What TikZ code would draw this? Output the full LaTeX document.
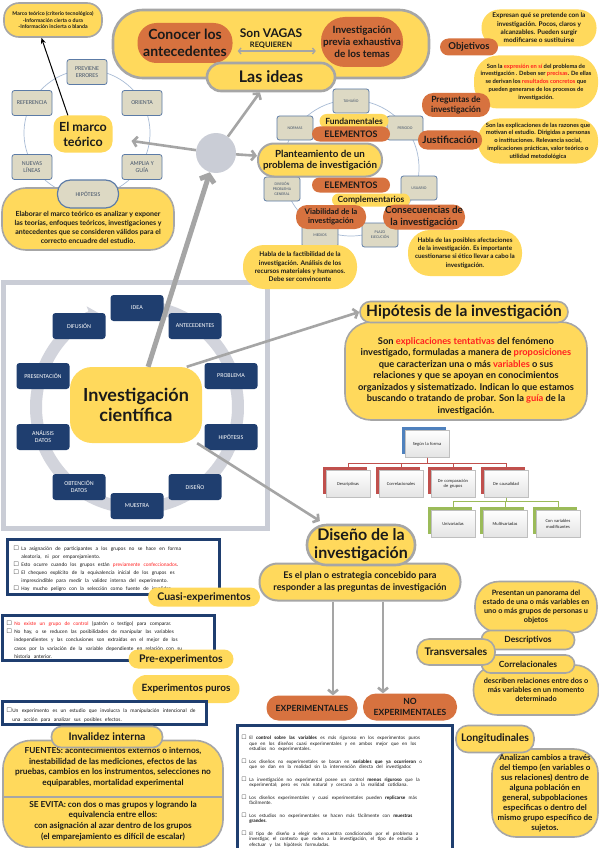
\documentclass[tikz,border=0pt]{standalone}
\usepackage{amssymb}
\usepackage{fontspec}
\setmainfont{Lato}
\newfontfamily\calib{Carlito}
\usetikzlibrary{arrows.meta, positioning, shadows}

\definecolor{yel}{HTML}{FFD95C}
\definecolor{orn}{HTML}{D7723F}
\definecolor{rimc}{HTML}{A6A6A6}
\definecolor{arrc}{HTML}{A5A5A5}
\definecolor{hubc}{HTML}{CACDD6}
\definecolor{navy}{HTML}{1F3E6F}
\definecolor{beige}{HTML}{DDD9C4}
\definecolor{beigeb}{HTML}{5C7BA6}
\definecolor{tagink}{HTML}{44546A}
\definecolor{ringc}{HTML}{A8BBD5}
\definecolor{ink}{HTML}{1A1A1A}
\definecolor{hot}{HTML}{FF1F1F}
\definecolor{segblue}{HTML}{4F81BD}
\definecolor{segred}{HTML}{C0504D}
\definecolor{seggreen}{HTML}{9BBB59}

\newcommand{\fsz}[2]{\fontsize{#1}{#2}\selectfont}
\newcommand{\rd}[1]{\textcolor{hot}{#1}}
\newcommand{\chk}[1]{\par\hangindent=#1\hangafter=1\noindent\makebox[#1][l]{$\square$}}

\begin{document}
\begin{tikzpicture}[x=1pt, y=-1pt,
  ybox/.style={rectangle, fill=yel, text=ink, align=center, font=\bfseries, inner sep=1pt},
  obox/.style={rectangle, fill=orn, text=ink, align=center, font=\bfseries, inner sep=1pt},
  rim/.style={draw=rimc, line width=1.6pt},
  thickrim/.style={draw=rimc, line width=2.6pt},
  tag/.style={rectangle, rounded corners=2.5pt, fill=beige, draw=beigeb, line width=0.8pt,
              text=tagink, align=center, inner sep=1pt},
  mtag/.style={tag, minimum width=40pt, minimum height=25pt, font=\calib\fsz{6}{7}},
  ptag/.style={tag, minimum width=36pt, minimum height=24pt, font=\calib\fsz{4}{4.7}},
  cyc/.style={rectangle, rounded corners=3pt, fill=navy, text=white, align=center,
              minimum width=53pt, minimum height=26pt, inner sep=1pt, font=\calib\fsz{6}{7}},
  frm/.style={rectangle, general shadow={fill=#1, shadow xshift=-3.5pt, shadow yshift=3.5pt},
              top color=white, bottom color=gray!22, draw=gray!50, line width=0.4pt,
              minimum width=44pt, minimum height=27pt, text width=42pt, align=center,
              inner sep=1pt, font=\calib\fsz{4.5}{5.2}, text=gray!25!black},
  lst/.style={rectangle, anchor=north west, draw=navy, line width=2.6pt, fill=white,
              inner ysep=2pt, font=\calib, text=ink,
              execute at begin node={\lineskiplimit=-20pt\lineskip=0pt\parskip=0pt}},
  ring/.style={draw=ringc, line width=0.7pt},
  garr/.style={draw=arrc, line width=2.6pt, -{Straight Barb[length=4pt, width=10pt]}},
  darr/.style={draw=arrc, line width=1.3pt,
               {Straight Barb[length=2.5pt, width=6pt]}-{Straight Barb[length=2.5pt, width=6pt]},
               shorten <=5pt, shorten >=5pt},
  bigarr/.style={draw=arrc, line width=5pt, -{Straight Barb[length=6pt, width=15pt]}},
  blkarr/.style={draw=black, line width=1pt, -{Stealth[length=6pt, width=5pt]}},
  redln/.style={draw=segred, line width=0.6pt},
  greenln/.style={draw=seggreen, line width=0.6pt}
]
\fill[white] (0,0) rectangle (599,848);
\useasboundingbox (0,0) rectangle (599,848);

% ciclo de la investigacion
\draw[draw=hubc, line width=5pt] (3,282) rectangle (267,528);
\draw[draw=hubc!85!white, line width=12pt, -{Triangle[length=9pt, width=22pt]}]
  (137,407) ++(-80:101) arc[start angle=-80, end angle=248, radius=101];
\node[cyc] (cidea) at (137,308) {IDEA};
\node[cyc] (cante) at (195,326) {ANTECEDENTES};
\node[cyc] (cprob) at (231,376) {PROBLEMA};
\node[cyc] (chipo) at (231,437) {HIPÓTESIS};
\node[cyc] (cdise) at (195,487) {DISEÑO};
\node[cyc] (cmues) at (137,506) {MUESTRA};
\node[cyc] (cobte) at (79,487) {OBTENCIÓN\\DATOS};
\node[cyc] (canal) at (43,437) {ANÁLISIS\\DATOS};
\node[cyc] (cpres) at (43,376) {PRESENTACIÓN};
\node[cyc] (cdifu) at (79,326) {DIFUSIÓN};
\node[ybox, rounded corners=22pt, minimum width=132pt, minimum height=76pt,
      font=\bfseries\fsz{18}{20}] (cien) at (136,405) {Investigación\\científica};

% marco teorico
\node[ybox, rim, rounded corners=15pt, minimum width=98pt, minimum height=34pt,
      font=\bfseries\fsz{5.2}{6.6}] (mt) at (53,20)
  {Marco teórico (criterio tecnológico)\\-Información cierta o dura\\-Información incierta o blanda};
\draw[ring] (87,133) circle[radius=63];
\node[mtag] (prev) at (87,72) {PREVIENE\\ERRORES};
\node[mtag] (refe) at (32,103) {REFERENCIA};
\node[mtag] (orie) at (142,103) {ORIENTA};
\node[mtag] (nuev) at (32,167) {NUEVAS\\LÍNEAS};
\node[mtag] (ampl) at (142,167) {AMPLIA Y\\GUÍA};
\node[ybox, rounded corners=11pt, minimum width=59pt, minimum height=37pt,
      font=\bfseries\fsz{12.5}{15}] (marco) at (83,134) {El marco\\teórico};
\node[ybox, rim, rounded corners=24pt, minimum width=172pt, minimum height=62pt,
      font=\bfseries\fsz{7}{9}] (elab) at (88,219)
  {\rule{0pt}{23pt}Elaborar el marco teórico es analizar y exponer\\las teorías, enfoques teóricos, investigaciones y\\antecedentes que se consideren válidos para el\\correcto encuadre del estudio.};
\node[mtag, rounded corners=13pt, minimum width=61pt, minimum height=28pt, line width=1.2pt]
  (hipm) at (88,194) {HIPÓTESIS};

% las ideas
\node[ybox, thickrim, rounded corners=30pt, minimum width=316pt, minimum height=68pt] (top) at (271,44) {};
\node[obox, rounded corners=19pt, minimum width=95pt, minimum height=40pt,
      font=\bfseries\fsz{14}{17}] (conocer) at (185,43) {Conocer los\\antecedentes};
\node[text=ink, font=\bfseries\fsz{12}{14}] (vagas) at (271,33) {Son VAGAS};
\node[below=0pt of vagas, text=ink, font=\bfseries\fsz{7.5}{9}, inner sep=1pt] (req) {REQUIEREN};
\node[obox, rounded corners=24pt, minimum width=82pt, minimum height=50pt,
      font=\bfseries\fsz{10}{11.7}] (previa) at (362,42) {Investigación\\previa exhaustiva\\de los temas};
\node[ybox, thickrim, rounded corners=14pt, minimum width=128pt, minimum height=28pt,
      font=\bfseries\fsz{16}{18}] (ideas) at (271,77) {Las ideas};
\draw[darr] ([yshift=-8pt]conocer.east) -- ([yshift=-9pt]previa.west);

\node[circle, fill=hubc, minimum size=40pt, inner sep=0pt] (hub) at (216,153) {};

% planteamiento del problema
\draw[ring] (351,168) circle[radius=68];
\node[ptag] (tama) at (351,101) {TAMAÑO};
\node[ptag] (norm) at (295,128) {NORMAS};
\node[ptag] (peri) at (405,128) {PERIODO};
\node[ptag] (divi) at (282,189) {DIVISIÓN\\PROBLEMA\\GENERAL};
\node[ptag] (usua) at (419,188) {USUARIO};
\node[ptag] (medi) at (320,235) {MEDIOS};
\node[ptag] (plaz) at (380,235) {PLAZO\\EJECUCIÓN};
\node[ybox, rounded corners=7pt, minimum width=69pt, minimum height=14pt,
      font=\bfseries\fsz{8.5}{10}] (fund) at (354,121) {Fundamentales};
\node[obox, rounded corners=7.5pt, minimum width=78pt, minimum height=15pt,
      font=\bfseries\fsz{9}{10}] (elem1) at (351,134) {ELEMENTOS};
\node[ybox, draw=rimc, line width=2pt, rounded corners=16pt, minimum width=124pt, minimum height=33pt,
      font=\bfseries\fsz{9.8}{11}] (plant) at (320,160) {Planteamiento de un\\problema de investigación};
\node[obox, rounded corners=7.5pt, minimum width=78pt, minimum height=15pt,
      font=\bfseries\fsz{9}{10}] (elem2) at (351,185) {ELEMENTOS};
\node[ybox, rounded corners=6.5pt, minimum width=78pt, minimum height=13pt,
      font=\bfseries\fsz{8.5}{10}] (compl) at (371,200) {Complementarios};
\node[obox, rounded corners=11pt, minimum width=70pt, minimum height=24pt,
      font=\bfseries\fsz{7.8}{9.5}] (viab) at (331,217) {Viabilidad de la\\investigación};
\node[obox, rounded corners=12pt, minimum width=82pt, minimum height=25pt,
      font=\bfseries\fsz{9.8}{12}] (conse) at (424,217) {Consecuencias de\\la investigación};
\node[ybox, rounded corners=21pt, minimum width=114pt, minimum height=44pt,
      font=\bfseries\fsz{6.5}{8.3}] (factib) at (300,267)
  {Habla de la factibilidad de la\\investigación.  Análisis de los\\recursos materiales y humanos.\\Debe ser convincente};
\node[ybox, rounded corners=22pt, minimum width=114pt, minimum height=46pt,
      font=\bfseries\fsz{6.3}{8.3}] (afect) at (465,253)
  {Habla de las posibles afectaciones\\de la investigación. Es importante\\cuestionarse si ético llevar a cabo la\\investigación.};

% objetivos, preguntas, justificacion
\node[ybox, rounded corners=18pt, minimum width=115pt, minimum height=37pt,
      font=\bfseries\fsz{6.5}{8.3}] (exprtxt) at (539,28)
  {Expresan qué se pretende con la\\investigación. Pocos, claros y\\alcanzables. Pueden surgir\\modificarse o sustituirse};
\node[obox, rounded corners=8.5pt, minimum width=58pt, minimum height=17pt,
      font=\bfseries\fsz{9.5}{11}] (obj) at (469,47) {Objetivos};
\node[ybox, rounded corners=24pt, minimum width=124pt, minimum height=53pt,
      font=\bfseries\fsz{5.8}{7.7}] (pregtxt) at (536,82)
  {Son la \rd{expresión en sí} del problema de\\investigación . Deben ser \rd{precisas}. De ellas\\se derivan los \rd{resultados concretos} que\\pueden generarse de los procesos de\\investigación.};
\node[obox, rounded corners=11pt, minimum width=68pt, minimum height=24pt,
      font=\bfseries\fsz{8.5}{10}] (preg) at (456,105) {Preguntas de\\investigación};
\node[ybox, rounded corners=21pt, minimum width=120pt, minimum height=45pt,
      font=\bfseries\fsz{5.9}{7.7}] (justtxt) at (538,141)
  {Son las explicaciones de las razones que\\motivan el estudio. Dirigidas a personas\\o instituciones. Relevancia social,\\implicaciones prácticas, valor teórico o\\utilidad metodológica};
\node[obox, rounded corners=9pt, minimum width=64pt, minimum height=19pt,
      font=\bfseries\fsz{10}{12}] (just) at (450,140) {Justificación};

% hipotesis
\node[ybox, rim, rounded corners=26pt, minimum width=242pt, minimum height=98pt,
      font=\bfseries\fsz{9.3}{11.5}] (hiptxt) at (466,371)
  {\rule{0pt}{17pt}Son \rd{explicaciones tentativas} del fenómeno\\investigado, formuladas a manera de \rd{proposiciones}\\que caracterizan una o más \rd{variables} o sus\\relaciones y que se apoyan en conocimientos\\organizados y sistematizado. Indican lo que estamos\\buscando o tratando de probar. Son la \rd{guía} de la\\investigación.};
\node[ybox, rim, rounded corners=10.5pt, minimum width=208pt, minimum height=21pt,
      font=\bfseries\fsz{15.5}{17}] (hiptit) at (464,312) {Hipótesis de la investigación};

\node[frm=segblue] (segun) at (427,444) {Según la forma};
\node[frm=segred] (odesc) at (348,484) {Descriptivas};
\node[frm=segred] (ocorr) at (401,484) {Correlacionales};
\node[frm=segred] (ocomp) at (453,484) {De comparación\\de grupos};
\node[frm=segred] (ocaus) at (506,484) {De causalidad};
\node[frm=seggreen] (ouniv) at (453,524) {Univariadas};
\node[frm=seggreen] (omult) at (505,524) {Multivariadas};
\node[frm=seggreen] (omodi) at (558,524) {Con variables\\modificantes};
\foreach \n in {odesc,ocorr,ocomp,ocaus}
  \draw[redln] (segun.south) -- ++(0,5.5) -| ([yshift=3.5pt]\n.north);
\foreach \n in {ouniv,omult,omodi}
  \draw[greenln] (ocaus.south) -- ++(0,4) -| ([yshift=3.5pt]\n.north);

% diseno de la investigacion
\node[ybox, draw=rimc, line width=2pt, rounded corners=18pt, minimum width=201pt, minimum height=37pt,
      font=\bfseries\fsz{9.2}{12}] (plan) at (360,582)
  {Es el plan o estrategia concebido para\\responder a las preguntas de investigación};
\node[ybox, thickrim, rounded corners=19.5pt, minimum width=108pt, minimum height=40pt,
      font=\bfseries\fsz{16}{18}] (dis) at (361,545) {Diseño de la\\investigación};
\node[obox, rounded corners=12pt, minimum width=91pt, minimum height=25pt,
      font=\bfseries\fsz{8.5}{10}] (exp) at (312,708) {EXPERIMENTALES};
\node[obox, rounded corners=13pt, minimum width=94pt, minimum height=27pt,
      font=\bfseries\fsz{8.5}{11}] (noexp) at (410,707) {NO\\EXPERIMENTALES};
\draw[garr] ([xshift=-27pt]plan.south) -- ([xshift=21pt]exp.north);
\draw[garr] ([xshift=23pt]plan.south) -- ([xshift=-27pt]noexp.north);

\node[lst, text width=207pt, inner xsep=4pt, minimum height=121pt] (cmpbox) at (236,724)
  {\fsz{5}{5.6}\parskip=6.8pt%
   \chk{8pt}El \textbf{control sobre las variables} es más riguroso en los experimentos puros\linebreak que en los diseños cuasi experimentales y en ambos mejor que en los\linebreak estudios no experimentales.
   \chk{8pt}Los diseños no experimentales se basan en \textbf{variables que ya ocurrieron} o\linebreak que se dan en la realidad sin la intervención directa del investigador.
   \chk{8pt}La investigación no experimental posee un control \textbf{menos riguroso} que la\linebreak experimental; pero es más natural y cercana a la realidad cotidiana.
   \chk{8pt}Los diseños experimentales y cuasi experimentales pueden \textbf{replicarse} más\linebreak fácilmente.
   \chk{8pt}Los estudios no experimentales se hacen más fácilmente con \textbf{muestras}\linebreak \textbf{grandes}.
   \chk{8pt}El tipo de diseño a elegir se encuentra condicionado por el problema a\linebreak investigar, el contexto que rodea a la investigación, el tipo de estudio a\linebreak efectuar y las hipótesis formuladas.\par};

% tipos de experimentos
\node[lst, text width=200pt, inner xsep=6pt, minimum height=55pt] (cuasibox) at (6,538)
  {\fsz{5.3}{7.9}%
   \chk{8pt}La asignación de participantes a los grupos no se hace en forma\linebreak aleatoria, ni por emparejamiento.
   \chk{8pt}Esto ocurre cuando los grupos están \rd{previamente confeccionados}.
   \chk{8pt}El chequeo explícito de la equivalencia inicial de los grupos es\linebreak imprescindible para medir la validez interna del experimento.
   \chk{8pt}Hay mucho peligro con la selección como fuente de invalidez.\par};
\node[ybox, rounded corners=9.5pt, minimum width=112pt, minimum height=19pt,
      font=\bfseries\fsz{10.5}{12}] (cuasi) at (204,597) {Cuasi-experimentos};
\node[lst, text width=204pt, inner xsep=4pt, minimum height=42pt] (prebox) at (1,614)
  {\fsz{5.3}{8.2}%
   \chk{8pt}\rd{No existe un grupo de control} (patrón o testigo) para comparar.
   \chk{8pt}No hay, o se reducen las posibilidades de manipular las variables\linebreak independientes y las conclusiones son extraídas en el mejor de los\linebreak casos por la variación de la variable dependiente en relación con su\linebreak historia anterior.\par};
\node[ybox, rounded corners=9.5pt, minimum width=105pt, minimum height=19pt,
      font=\bfseries\fsz{10.5}{12}] (pre) at (181,659) {Pre-experimentos};
\node[ybox, rounded corners=14pt, minimum width=107pt, minimum height=28pt,
      font=\bfseries\fsz{10}{12}] (puros) at (186,689) {Experimentos puros};
\node[lst, text width=196pt, inner xsep=4pt, minimum height=23pt] (purobox) at (1,700)
  {\fsz{5.3}{8.8}%
   \chk{6pt}Un experimento es un estudio que involucra la  manipulación intencional de\linebreak una acción para analizar sus posibles efectos.\par};

% invalidez interna
\node[ybox, rim, rounded corners=28pt, minimum width=220pt, minimum height=107pt,
      font=\bfseries\fsz{8.3}{10.7}] (inv) at (113,794)
  {FUENTES: acontecimientos externos o internos,\\inestabilidad de las mediciones, efectos de las\\pruebas, cambios en los instrumentos, selecciones no\\equiparables, mortalidad experimental\\[11pt]SE EVITA: con dos o mas grupos y logrando la\\equivalencia entre ellos:\\con asignación al azar dentro de los grupos\\(el emparejamiento es difícil de escalar)};
\draw[draw=rimc, line width=1.2pt] ([yshift=-3pt]inv.west) -- ([yshift=-3pt]inv.east);
\node[ybox, rim, rounded corners=10pt, minimum width=111pt, minimum height=21pt,
      font=\bfseries\fsz{10.5}{12}] (invt) at (107,737) {Invalidez interna};

% transversales y longitudinales
\node[ybox, rim, rounded corners=24pt, minimum width=122pt, minimum height=51pt,
      font=\bfseries\fsz{7.3}{9.2}] (prestxt) at (536,607)
  {Presentan un panorama del\\estado de una o más variables en\\uno o más grupos de personas u\\objetos};
\node[ybox, rim, rounded corners=24pt, minimum width=125pt, minimum height=50pt,
      font=\bfseries\fsz{7.3}{9.2}] (reltxt) at (536,690)
  {describen relaciones entre dos o\\más variables en un momento\\determinado};
\node[ybox, rim, rounded corners=9pt, minimum width=93pt, minimum height=19pt,
      font=\bfseries\fsz{8.5}{10}] (tdesc) at (528,640) {Descriptivos};
\node[ybox, rim, rounded corners=9pt, minimum width=93pt, minimum height=18pt,
      font=\bfseries\fsz{8.5}{10}] (tcorr) at (528,664) {Correlacionales};
\node[ybox, rim, rounded corners=12pt, minimum width=78pt, minimum height=26pt,
      font=\bfseries\fsz{10.5}{12}] (trans) at (456,652) {Transversales};
\node[ybox, rim, rounded corners=24pt, minimum width=106pt, minimum height=88pt,
      font=\bfseries\fsz{8}{10}] (cambtxt) at (545,793)
  {Analizan cambios a través\\del tiempo (en variables o\\sus relaciones) dentro de\\alguna población en\\general, subpoblaciones\\especificas o dentro del\\mismo grupo específico de\\sujetos.};
\node[ybox, rim, rounded corners=12pt, minimum width=78pt, minimum height=27pt,
      font=\bfseries\fsz{10.5}{12}] (longi) at (495,739) {Longitudinales};

% conectores
\draw[garr] (hub) -- (ideas);
\draw[garr, shorten >=19pt] (hub) -- (marco);
\draw[garr] (hub) -- (plant);
\draw[bigarr] (cien) -- (hub);
\draw[garr] (cien.37) -- (hiptit.west);
\draw[garr, shorten >=5pt] (cien.-32) -- (dis.150);
\draw[blkarr] (marco.129) -- (mt.237);
\end{tikzpicture}
\end{document}
